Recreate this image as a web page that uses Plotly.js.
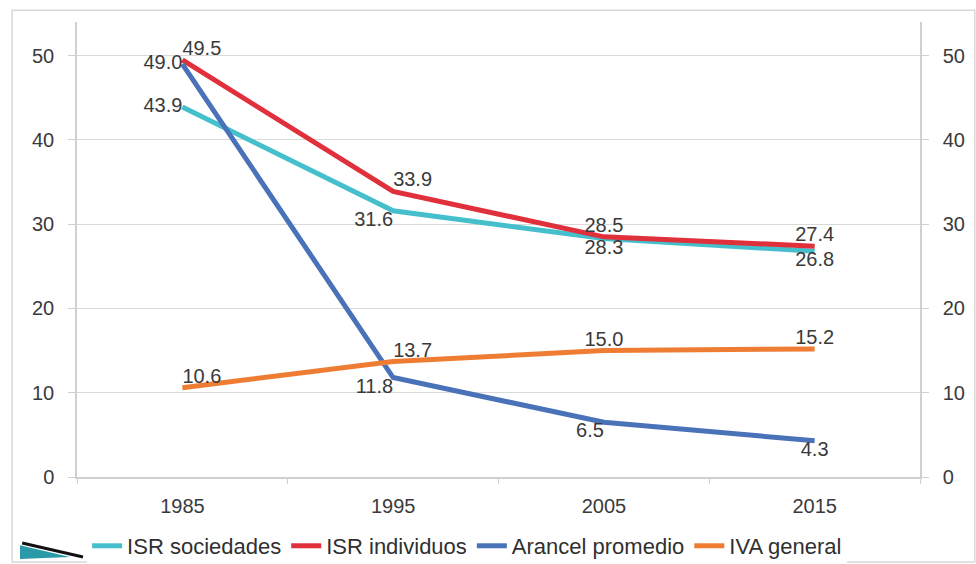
<!DOCTYPE html>
<html><head><meta charset="utf-8">
<script src="https://cdn.plot.ly/plotly-3.0.1.min.js"></script>
<style>body{margin:0;background:#fff}#c{width:976px;height:564px}</style>
</head><body><div id="c"></div><script>
const years = ['1985', '1995', '2005', '2015'];
const isrSociedades = [43.9, 31.6, 28.3, 26.8];
const isrIndividuos = [49.5, 33.9, 28.5, 27.4];
const arancelPromedio = [49.0, 11.8, 6.5, 4.3];
const ivaGeneral = [10.6, 13.7, 15.0, 15.2];
const seriesNames = ['ISR sociedades', 'ISR individuos', 'Arancel promedio', 'IVA general'];
const yTicks = [0, 10, 20, 30, 40, 50];

const colors = ['#45bfcc', '#e0303c', '#4a72b8', '#ee7d33'];
const font = {family: 'Liberation Sans, Arial, sans-serif', size: 20, color: '#3a3a3a'};
function tr(y, i, pos) {
  return {x: years, y: y, name: seriesNames[i], type: 'scatter', mode: 'lines+text',
    line: {color: colors[i], width: 5}, text: y.map(v => v.toFixed(1)),
    textposition: pos, textfont: font, cliponaxis: false};
}
const data = [
  tr(isrSociedades, 0, ['middle left', 'bottom left', 'bottom center', 'bottom center']),
  tr(isrIndividuos, 1, ['top right', 'top right', 'top center', 'top center']),
  tr(arancelPromedio, 2, ['middle left', 'bottom left', 'bottom left', 'bottom center']),
  tr(ivaGeneral, 3, ['top right', 'top right', 'top center', 'top center']),
  {x: years, y: isrSociedades, yaxis: 'y2', mode: 'lines', line: {width: 0}, showlegend: false, hoverinfo: 'skip'}
];
const axisCommon = {range: [0, 54], tickvals: yTicks, zeroline: false, showline: true,
  linecolor: '#d0d0d0', linewidth: 1.5, ticks: 'outside', ticklen: 7, tickcolor: '#d0d0d0',
  tickfont: font, ticklabelstandoff: 10};
const layout = {
  width: 976, height: 564,
  margin: {l: 77, r: 56, t: 22, b: 87, autoexpand: false},
  paper_bgcolor: '#fff', plot_bgcolor: '#fff',
  font: font,
  showlegend: true,
  legend: {orientation: 'h', x: 0.012, xanchor: 'left', y: -0.1516, yanchor: 'middle',
    font: {family: 'Liberation Sans, Arial, sans-serif', size: 22, color: '#303030'},
    itemwidth: 30, tracegroupgap: 0},
  xaxis: {type: 'category', range: [-0.5, 3.5], showgrid: false, zeroline: false,
    showline: true, linecolor: '#d0d0d0', linewidth: 1.5,
    ticks: 'outside', tickson: 'boundaries', ticklen: 5, tickcolor: '#d0d0d0',
    tickfont: font, ticklabelstandoff: 10},
  yaxis: Object.assign({}, axisCommon, {showgrid: true, gridcolor: '#d9d9d9'}),
  yaxis2: Object.assign({}, axisCommon, {overlaying: 'y', side: 'right', showgrid: false}),
  shapes: [
    {type: 'rect', xref: 'paper', yref: 'paper', x0: -0.077, x1: 1.065, y0: -0.187, y1: 1.026,
      line: {color: '#d8d8d8', width: 1.5}, fillcolor: 'rgba(0,0,0,0)'},
    {type: 'path', xref: 'paper', yref: 'paper', path: 'M -0.0676,-0.150 L -0.0083,-0.176 L -0.0676,-0.180 Z',
      fillcolor: '#2a9aa8', line: {width: 0}},
    {type: 'line', xref: 'paper', yref: 'paper', x0: -0.0650, y0: -0.145, x1: 0.0071, y1: -0.176,
      line: {color: '#111111', width: 3}}
  ]
};
Plotly.newPlot('c', data, layout, {displayModeBar: false});
</script></body></html>
